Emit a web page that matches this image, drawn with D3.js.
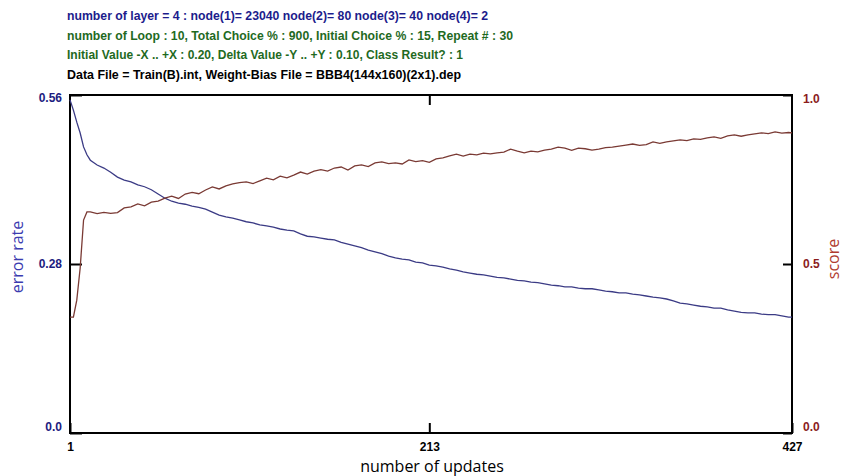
<!DOCTYPE html>
<html>
<head>
<meta charset="utf-8">
<script src="https://cdn.jsdelivr.net/npm/d3@7"></script>
<style>
  body { margin: 0; background: #fff; }
  svg { display: block; }
</style>
</head>
<body>
<svg width="845" height="476"></svg>
<script>
// header lines printed above the plot
var headerLines = [
	"number of layer = 4 : node(1)= 23040 node(2)= 80 node(3)= 40 node(4)= 2",
	"number of Loop : 10, Total Choice % : 900, Initial Choice % : 15, Repeat # : 30",
	"Initial Value -X .. +X : 0.20, Delta Value -Y .. +Y : 0.10, Class Result? : 1",
	"Data File = Train(B).int, Weight-Bias File = BBB4(144x160)(2x1).dep"
];
var headerColors = ["#1c1c8c", "#1f6a1f", "#1f6a1f", "#000000"];
var headerWidths = [421, 446, 396, 394];

// x ticks and y ticks
var xTicks = [1, 213, 427];
var errTicks = [0, 0.28, 0.56];
var errTickLabels = ["0.0", "0.28", "0.56"];
var scoreTicks = [0, 0.5, 1];
var scoreTickLabels = ["0.0", "0.5", "1.0"];

var updates = [1, 3, 5, 7, 9, 11, 13,
	17, 21, 25, 29, 33, 37, 41, 45, 49, 53, 57, 61, 65, 69, 73, 77, 81, 85, 89, 93, 97, 101,
	105, 109, 113, 117, 121, 125, 129, 133, 137, 141, 145, 149, 153, 157, 161, 165, 169, 173,
	177, 181, 185, 189, 193, 197, 201, 205, 209, 213, 217, 221, 225, 229, 233, 237, 241, 245,
	249, 253, 257, 261, 265, 269, 273, 277, 281, 285, 289, 293, 297, 301, 305, 309, 313, 317,
	321, 325, 329, 333, 337, 341, 345, 349, 353, 357, 361, 365, 369, 373, 377, 381, 385, 389,
	393, 397, 401, 405, 409, 413, 417, 421, 425, 427];

var errorRate = [0.552, 0.535, 0.515, 0.497, 0.474, 0.461, 0.452,
	0.444, 0.439, 0.432, 0.424, 0.419, 0.416, 0.411, 0.408, 0.403, 0.396, 0.389, 0.384, 0.381,
	0.379, 0.376, 0.374, 0.371, 0.366, 0.361, 0.358, 0.356, 0.353, 0.350, 0.348, 0.345, 0.343,
	0.341, 0.338, 0.336, 0.335, 0.330, 0.326, 0.325, 0.323, 0.321, 0.320, 0.316, 0.313, 0.310,
	0.307, 0.303, 0.300, 0.297, 0.293, 0.290, 0.288, 0.287, 0.283, 0.282, 0.278, 0.277, 0.275,
	0.272, 0.270, 0.267, 0.265, 0.263, 0.262, 0.260, 0.258, 0.257, 0.255, 0.253, 0.252, 0.250,
	0.249, 0.247, 0.245, 0.244, 0.242, 0.242, 0.240, 0.239, 0.239, 0.237, 0.235, 0.234, 0.232,
	0.232, 0.230, 0.229, 0.227, 0.225, 0.224, 0.222, 0.219, 0.215, 0.214, 0.212, 0.210, 0.209,
	0.207, 0.207, 0.204, 0.202, 0.200, 0.199, 0.199, 0.197, 0.196, 0.196, 0.194, 0.192, 0.192];

var score = [0.343, 0.343, 0.393, 0.488, 0.630, 0.654, 0.654,
	0.649, 0.653, 0.650, 0.652, 0.666, 0.669, 0.678, 0.672, 0.683, 0.686, 0.695, 0.701, 0.694,
	0.707, 0.712, 0.708, 0.719, 0.728, 0.722, 0.731, 0.737, 0.741, 0.743, 0.738, 0.746, 0.754,
	0.749, 0.760, 0.755, 0.763, 0.772, 0.766, 0.775, 0.779, 0.775, 0.784, 0.787, 0.778, 0.790,
	0.793, 0.788, 0.799, 0.802, 0.797, 0.799, 0.796, 0.808, 0.803, 0.806, 0.801, 0.811, 0.814,
	0.820, 0.825, 0.819, 0.825, 0.823, 0.828, 0.826, 0.829, 0.831, 0.840, 0.834, 0.829, 0.834,
	0.832, 0.837, 0.840, 0.846, 0.843, 0.836, 0.843, 0.841, 0.837, 0.840, 0.844, 0.846, 0.849,
	0.852, 0.855, 0.851, 0.853, 0.861, 0.857, 0.861, 0.864, 0.867, 0.865, 0.870, 0.869, 0.873,
	0.876, 0.872, 0.879, 0.882, 0.878, 0.882, 0.885, 0.888, 0.886, 0.891, 0.887, 0.889, 0.888];

var svg = d3.select('svg');
var plot = {left: 70, right: 792, top: 95, bottom: 433};

var x = d3.scaleLinear().domain([1, 427]).range([plot.left, plot.right]);
var yErr = d3.scaleLinear().domain([0, 0.56]).range([plot.bottom, plot.top]);
var yScore = d3.scaleLinear().domain([0, 1]).range([plot.bottom, plot.top]);

// header
svg.selectAll('text.header').data(headerLines).enter().append('text')
	.attr('class', 'header')
	.attr('x', 67)
	.attr('y', function(d, i) {return 20 + i * 19.7})
	.attr('fill', function(d, i) {return headerColors[i]})
	.attr('font-family', 'Liberation Sans, Arial, sans-serif')
	.attr('font-weight', 'bold')
	.attr('font-size', 12.5)
	.attr('textLength', function(d, i) {return headerWidths[i]})
	.attr('lengthAdjust', 'spacingAndGlyphs')
	.text(function(d) {return d});

// axes
function styleAxis(g, color) {
	g.select('.domain').remove();
	g.selectAll('line').attr('stroke', '#000').attr('stroke-width', 2);
	g.selectAll('text')
		.attr('fill', color)
		.attr('font-family', 'Liberation Sans, Arial, sans-serif')
		.attr('font-weight', 'bold')
		.attr('font-size', 12);
}

svg.append('g')
	.attr('transform', 'translate(' + plot.left + ',0)')
	.call(d3.axisLeft(yErr).tickValues(errTicks).tickSize(-12).tickPadding(8)
		.tickFormat(function(d, i) {return errTickLabels[i]}))
	.call(function(g) {
		styleAxis(g, '#1c1c80');
		g.selectAll('text').attr('dy', function(d) {return d === 0 ? '-0.2em' : d === 0.56 ? '0.55em' : '0.32em'});
	});

svg.append('g')
	.attr('transform', 'translate(' + plot.right + ',0)')
	.call(d3.axisRight(yScore).tickValues(scoreTicks).tickSize(-9).tickPadding(11)
		.tickFormat(function(d, i) {return scoreTickLabels[i]}))
	.call(function(g) {
		styleAxis(g, '#8b1c1c');
		g.selectAll('text').attr('dy', function(d) {return d === 0 ? '-0.2em' : d === 1 ? '0.6em' : '0.32em'});
	});

svg.append('g')
	.attr('transform', 'translate(0,' + plot.bottom + ')')
	.call(d3.axisBottom(x).tickValues(xTicks).tickSize(-10).tickPadding(9))
	.call(function(g) {styleAxis(g, '#000');});

svg.append('g')
	.attr('transform', 'translate(0,' + plot.top + ')')
	.call(d3.axisTop(x).tickValues([213]).tickSize(-10).tickFormat(''))
	.call(function(g) {styleAxis(g, '#000');});

// frame
svg.append('rect')
	.attr('x', plot.left).attr('y', plot.top)
	.attr('width', plot.right - plot.left).attr('height', plot.bottom - plot.top)
	.attr('fill', 'none').attr('stroke', '#000').attr('stroke-width', 2);

// lines
var errLine = d3.line()
	.x(function(d, i) {return x(updates[i])})
	.y(function(d) {return yErr(d)});
var scoreLine = d3.line()
	.x(function(d, i) {return x(updates[i])})
	.y(function(d) {return yScore(d)});

svg.append('path').datum(errorRate)
	.attr('d', errLine).attr('fill', 'none')
	.attr('stroke', '#3b3b85').attr('stroke-width', 1.3);
svg.append('path').datum(score)
	.attr('d', scoreLine).attr('fill', 'none')
	.attr('stroke', '#7a3a34').attr('stroke-width', 1.3);

// axis titles
svg.append('text')
	.attr('transform', 'translate(23,257) rotate(-90)')
	.attr('text-anchor', 'middle')
	.attr('fill', '#3b3bb0')
	.attr('font-family', 'Open Sans, sans-serif')
	.attr('font-size', 16)
	.text('error rate');

svg.append('text')
	.attr('transform', 'translate(839,259) rotate(-90)')
	.attr('text-anchor', 'middle')
	.attr('fill', '#b03a2e')
	.attr('font-family', 'Open Sans, sans-serif')
	.attr('font-size', 16)
	.text('score');

svg.append('text')
	.attr('x', 432).attr('y', 472)
	.attr('text-anchor', 'middle')
	.attr('fill', '#000')
	.attr('font-family', 'Open Sans, sans-serif')
	.attr('font-size', 16)
	.text('number of updates');
</script>
</body>
</html>
